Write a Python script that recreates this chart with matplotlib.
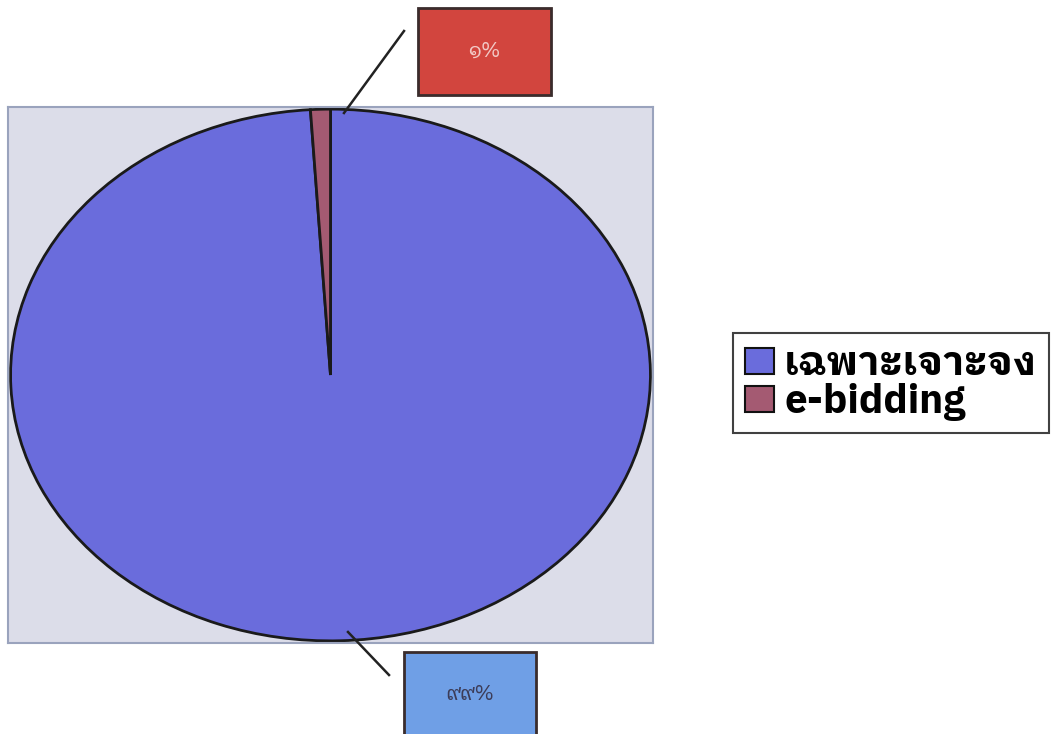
import matplotlib
matplotlib.use("Agg")
import matplotlib.pyplot as plt
from matplotlib.patches import Rectangle
from matplotlib.lines import Line2D

plt.rcParams['font.family'] = ['IBM Plex Sans Thai Looped', 'DejaVu Sans']

# ข้อมูล
categories = ['เฉพาะเจาะจง', 'e-bidding']
values = [99, 1]
value_labels = ['๙๙%', '๑%']
colors = ['#6a6cdc', '#a45a72']

W, H = 1053, 734
fig = plt.figure(figsize=(W / 100, H / 100), dpi=100)
ax = fig.add_axes([8 / W, 1 - 643 / H, 645 / W, 536 / H])

wedges, _ = ax.pie(values, colors=colors, startangle=90, counterclock=False,
                   wedgeprops=dict(edgecolor='#1a1a1a', linewidth=2))
ax.set_aspect('auto')
ax.set_xlim(-1.008, 1.008)
ax.set_ylim(-1.008, 1.008)
ax.set_frame_on(True)
ax.set_facecolor('#dcdde9')
for s in ax.spines.values():
    s.set_color('#9aa3bd')
    s.set_linewidth(1.5)
ax.set_xticks([])
ax.set_yticks([])


def px(x, y):
    # พิกัดพิกเซลจากมุมบนซ้าย -> สัดส่วนของรูป
    return x / W, 1 - y / H


# กล่องป้ายข้อมูล
boxes = [
    # (x0, y0, x1, y1, สีพื้น, สีตัวอักษร, เส้นนำ)
    (404, 652, 536, 745, '#6f9fe6', '#3c3c58', ((348, 632), (389, 675))),
    (418, 8, 551, 95, '#d2453e', '#f2c9c6', ((344, 113), (404, 31))),
]
for (x0, y0, x1, y1, fc, tc, line), lab in zip(boxes, value_labels):
    fx, fy = px(x0, y1)
    fig.patches.append(Rectangle((fx, fy), (x1 - x0) / W, (y1 - y0) / H,
                                 transform=fig.transFigure, facecolor=fc,
                                 edgecolor='#3a2c2c', linewidth=2))
    cx, cy = px((x0 + x1) / 2, min(y0 + 43, (y0 + y1) / 2))
    fig.text(cx, cy, lab, ha='center', va='center', fontsize=15, color=tc)
    (ax_, ay_), (bx_, by_) = line
    p1, p2 = px(ax_, ay_), px(bx_, by_)
    fig.lines.append(Line2D([p1[0], p2[0]], [p1[1], p2[1]], transform=fig.transFigure,
                            color='#222222', linewidth=1.8))

leg = fig.legend(wedges, categories, loc='upper left', bbox_to_anchor=px(733, 333),
                 prop=dict(weight='bold', size=29), frameon=True, fancybox=False,
                 edgecolor='#111111', handlelength=0.72, handleheight=0.62,
                 handletextpad=0.25, labelspacing=0.0, borderpad=0.3,
                 borderaxespad=0)
leg.get_frame().set_linewidth(1.5)
for h in leg.legend_handles:
    h.set_edgecolor('#111111')
    h.set_linewidth(1.5)

fig.savefig('out.png', dpi=100)
